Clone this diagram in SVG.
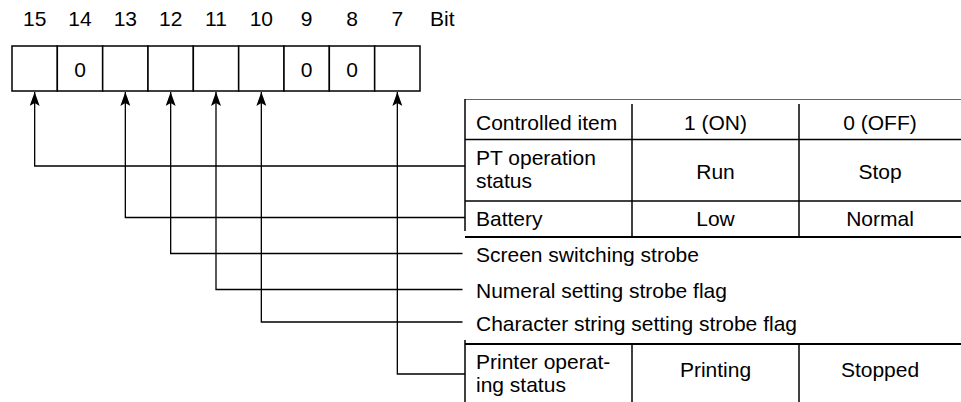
<svg xmlns="http://www.w3.org/2000/svg" width="961" height="402" viewBox="0 0 961 402">
<defs>
<style>
text{font-family:"Liberation Sans",Arial,Helvetica,sans-serif;font-size:21px;fill:#000}
.m{text-anchor:middle}
.cell{fill:#fff;stroke:#000;stroke-width:1.5}
.tl{stroke:#000;stroke-width:1.5;fill:none}
.tb{stroke:#000;stroke-width:2.2;fill:none}
.tg{stroke:#666;stroke-width:1;fill:none}
.c{stroke:#000;stroke-width:1.3;fill:none;marker-end:url(#arr)}
</style>
<marker id="arr" viewBox="0 0 14 10" refX="14" refY="5" markerWidth="14" markerHeight="10" markerUnits="userSpaceOnUse" orient="auto">
<path d="M0,0 L14,5 L0,10 L3,5 Z" fill="#000"/>
</marker>
</defs>
<rect width="961" height="402" fill="#fff"/>

<g id="bit-numbers">
<text class="m" x="34.67" y="26">15</text>
<text class="m" x="80" y="26">14</text>
<text class="m" x="125.33" y="26">13</text>
<text class="m" x="170.67" y="26">12</text>
<text class="m" x="216" y="26">11</text>
<text class="m" x="261.33" y="26">10</text>
<text class="m" x="306.67" y="26">9</text>
<text class="m" x="352" y="26">8</text>
<text class="m" x="397.33" y="26">7</text>
<text x="430" y="26">Bit</text>
</g>

<g id="register">
<rect class="cell" x="12" y="46" width="45.33" height="45"/>
<rect class="cell" x="57.33" y="46" width="45.33" height="45"/>
<rect class="cell" x="102.67" y="46" width="45.33" height="45"/>
<rect class="cell" x="148" y="46" width="45.33" height="45"/>
<rect class="cell" x="193.33" y="46" width="45.33" height="45"/>
<rect class="cell" x="238.67" y="46" width="45.33" height="45"/>
<rect class="cell" x="284" y="46" width="45.33" height="45"/>
<rect class="cell" x="329.33" y="46" width="45.33" height="45"/>
<rect class="cell" x="374.67" y="46" width="45.33" height="45"/>
<text class="m" x="80" y="76.5">0</text>
<text class="m" x="306.67" y="76.5">0</text>
<text class="m" x="352" y="76.5">0</text>
</g>

<g id="connectors">
<polyline class="c" points="465,166 34.67,166 34.67,92"/>
<polyline class="c" points="465,217.5 125.33,217.5 125.33,92"/>
<polyline class="c" points="462.5,253.5 170.67,253.5 170.67,92"/>
<polyline class="c" points="462.5,289.5 216,289.5 216,92"/>
<polyline class="c" points="462.5,322 261.33,322 261.33,92"/>
<polyline class="c" points="465,374 397.33,374 397.33,92"/>
</g>

<g id="table-top">
<line class="tg" x1="465" y1="99.5" x2="961" y2="99.5"/>
<line class="tl" x1="465" y1="99" x2="465" y2="231"/>
<line class="tl" x1="632" y1="104" x2="632" y2="237"/>
<line class="tl" x1="799" y1="104" x2="799" y2="237"/>
<line class="tl" x1="465" y1="139.5" x2="961" y2="139.5"/>
<line class="tl" x1="465" y1="201" x2="961" y2="201"/>
<line class="tb" x1="465" y1="237" x2="961" y2="237"/>
<text x="476" y="130">Controlled item</text>
<text class="m" x="715.5" y="130">1 (ON)</text>
<text class="m" x="880" y="130">0 (OFF)</text>
<text x="476" y="164.5">PT operation</text>
<text x="476" y="188">status</text>
<text class="m" x="715.5" y="179">Run</text>
<text class="m" x="880" y="179">Stop</text>
<text x="476" y="226">Battery</text>
<text class="m" x="715.5" y="226">Low</text>
<text class="m" x="880" y="226">Normal</text>
</g>

<g id="labels">
<text x="476" y="261.5">Screen switching strobe</text>
<text x="476" y="297.5">Numeral setting strobe flag</text>
<text x="476" y="330.5">Character string setting strobe flag</text>
</g>

<g id="table-bottom">
<line class="tb" x1="465" y1="344" x2="961" y2="344"/>
<line class="tl" x1="465" y1="340" x2="465" y2="402"/>
<line class="tl" x1="632" y1="344" x2="632" y2="402"/>
<line class="tl" x1="799" y1="344" x2="799" y2="402"/>
<text x="476" y="369">Printer operat-</text>
<text x="476" y="392">ing status</text>
<text class="m" x="715.5" y="377">Printing</text>
<text class="m" x="880" y="377">Stopped</text>
</g>
</svg>
